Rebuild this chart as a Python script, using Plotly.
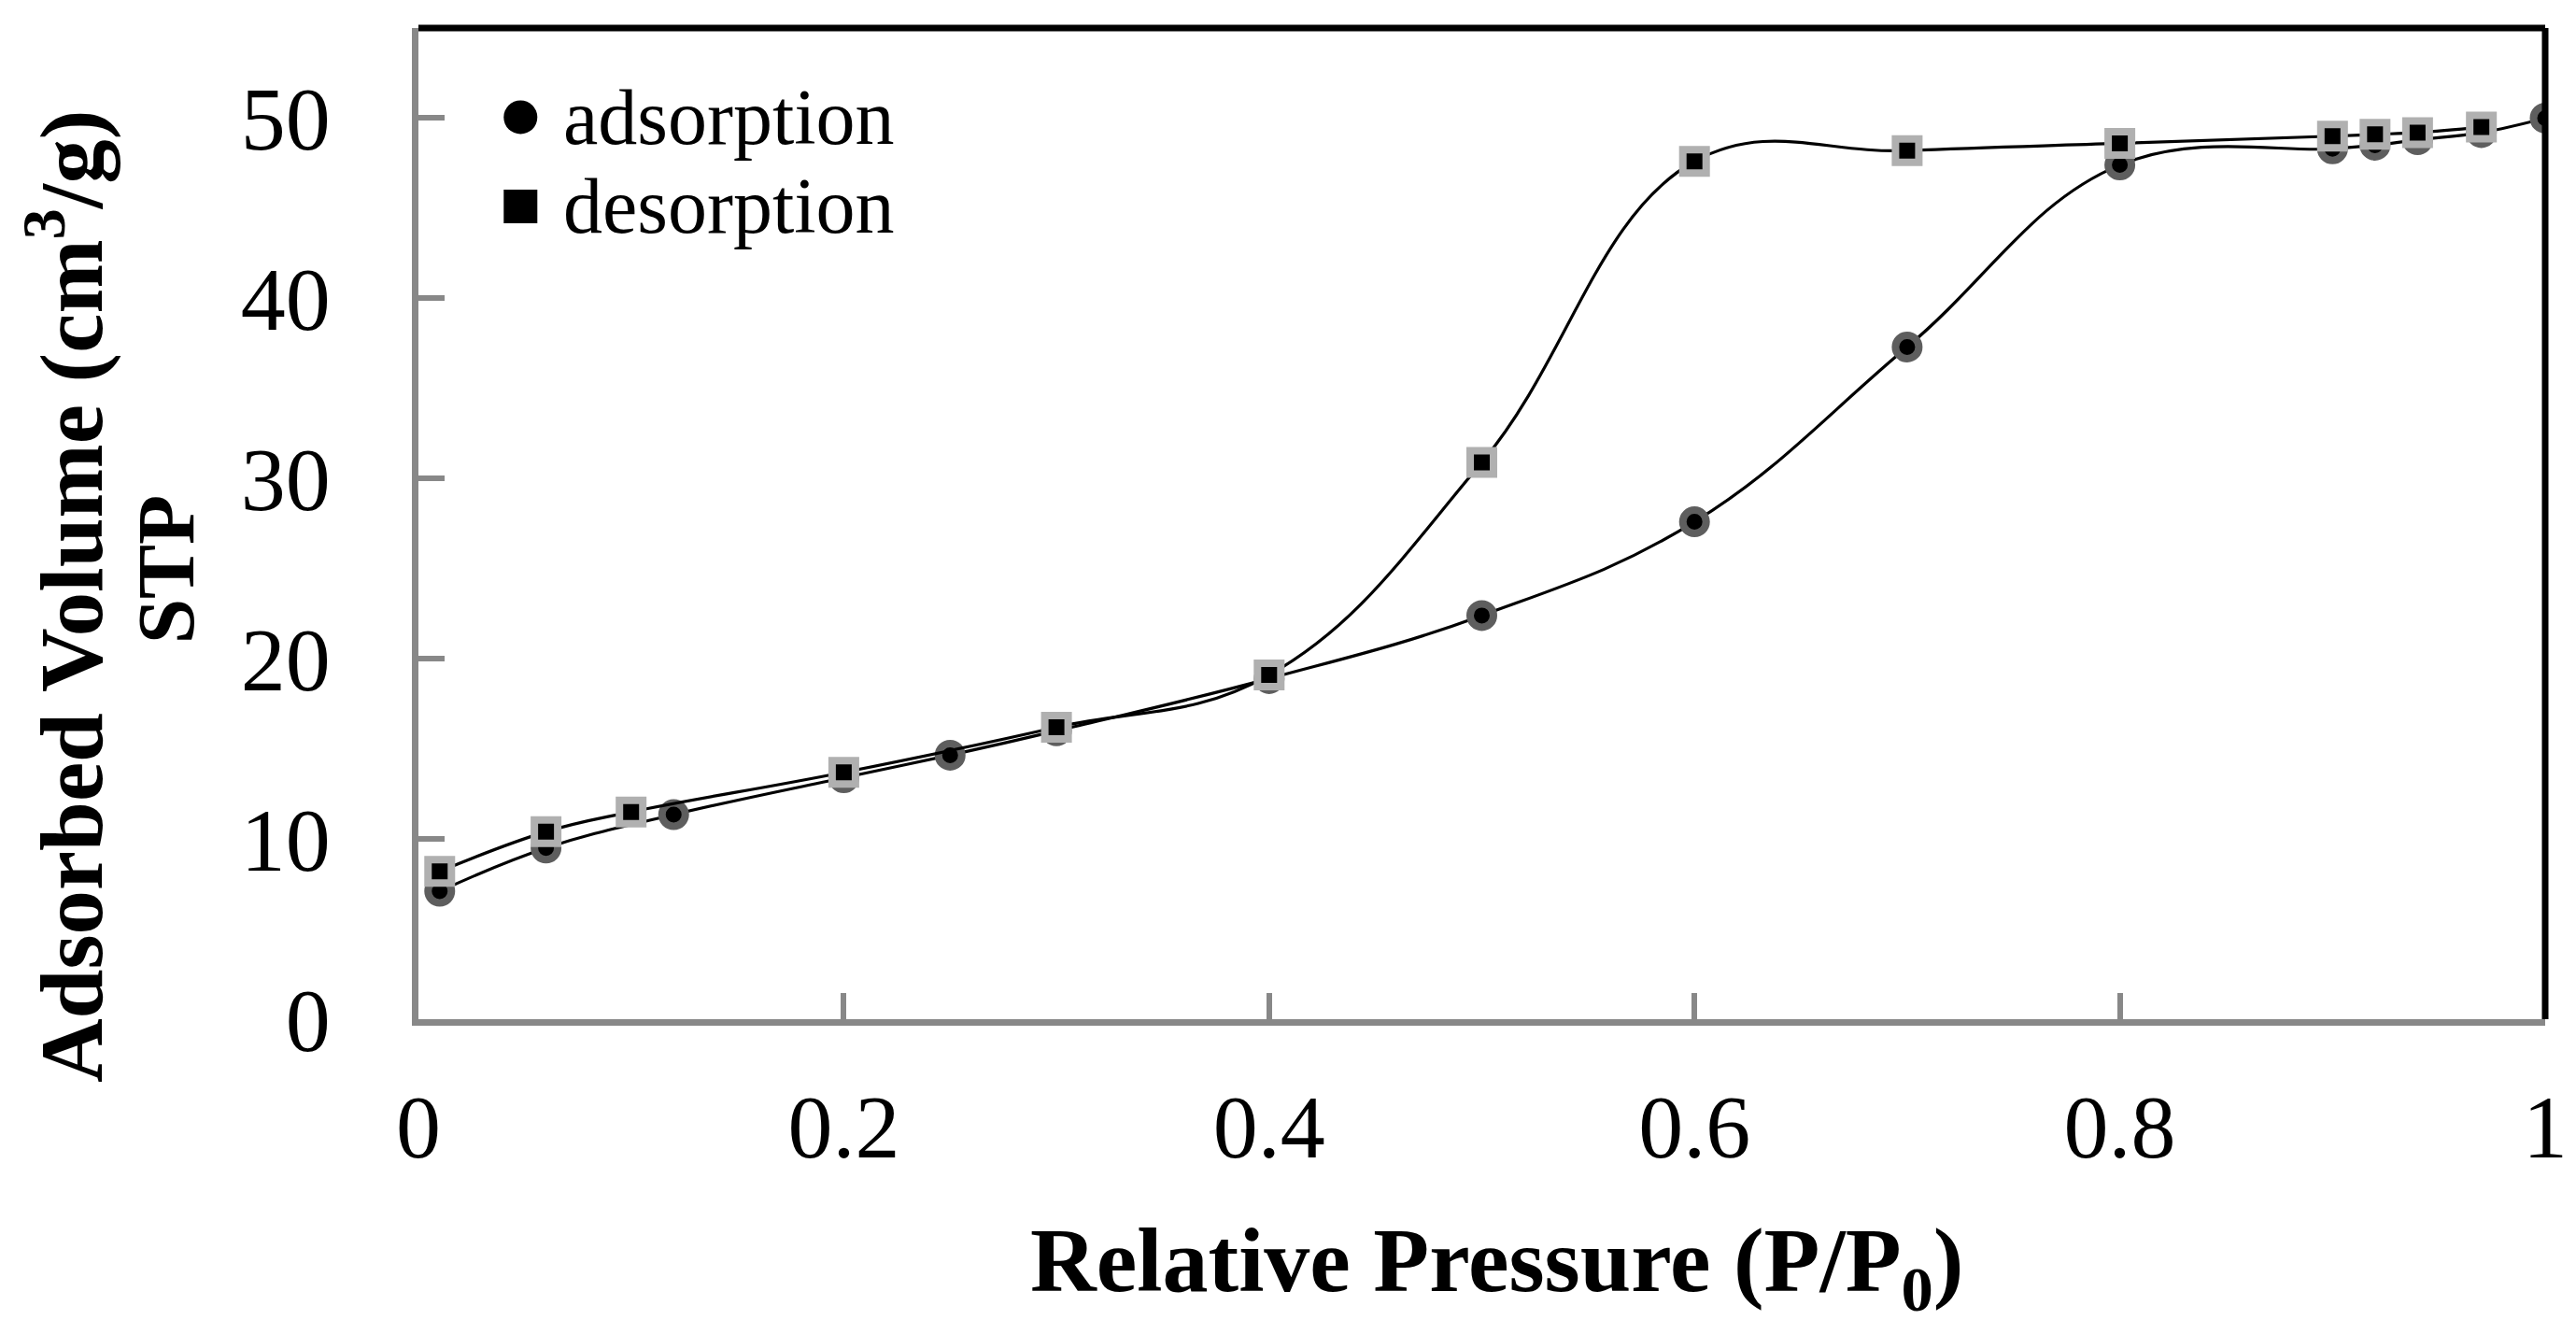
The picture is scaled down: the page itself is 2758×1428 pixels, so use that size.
import plotly.graph_objects as go

# Adsorption branch (circles)
ads_p = [0.01, 0.06, 0.12, 0.2, 0.25, 0.3, 0.4, 0.5, 0.6, 0.7, 0.8, 0.9, 0.92, 0.94, 0.97, 1.0]
ads_v = [7.1, 9.5, 11.35, 13.4, 14.65, 16.0, 18.9, 22.4, 27.6, 37.3, 47.4, 48.3, 48.5, 48.8, 49.2, 50.0]

# Desorption branch (squares)
des_p = [0.97, 0.94, 0.92, 0.9, 0.8, 0.7, 0.6, 0.5, 0.4, 0.3, 0.2, 0.1, 0.06, 0.01]
des_v = [49.5, 49.2, 49.1, 49.0, 48.6, 48.2, 47.6, 30.9, 19.1, 16.2, 13.7, 11.5, 10.4, 8.2]

x_ticks = [0, 0.2, 0.4, 0.6, 0.8, 1.0]
x_tick_text = ["0", "0.2", "0.4", "0.6", "0.8", "1"]
y_ticks = [0, 10, 20, 30, 40, 50]

FONT = "Liberation Serif"
GRAY_AXIS = "#888888"

fig = go.Figure()

fig.add_trace(go.Scatter(
    x=ads_p, y=ads_v, mode="lines+markers", name="adsorption",
    line=dict(color="black", width=3.2, shape="spline", smoothing=1.15),
    marker=dict(symbol="circle", size=25, color="black",
                line=dict(color="#5e5e5e", width=8)),
    showlegend=False,
))
fig.add_trace(go.Scatter(
    x=des_p, y=des_v, mode="lines+markers", name="desorption",
    line=dict(color="black", width=3.2, shape="spline", smoothing=1.15),
    marker=dict(symbol="square", size=25, color="black",
                line=dict(color="#b0b0b0", width=8)),
    showlegend=False,
))

# hand-made legend (glyphs bigger than plotly's legend allows)
legend_items = [("adsorption", "circle", 0.910), ("desorption", "square", 0.820)]
shapes = []
annotations = []
for label, sym, ypos in legend_items:
    shapes.append(dict(
        type="circle" if sym == "circle" else "rect",
        xref="paper", yref="paper", xsizemode="pixel", ysizemode="pixel",
        xanchor=0.048, yanchor=ypos,
        x0=-18, x1=18, y0=-18, y1=18,
        fillcolor="black", line=dict(width=0),
    ))
    annotations.append(dict(
        text=label, xref="paper", yref="paper", x=0.067, y=ypos,
        xanchor="left", yanchor="middle", showarrow=False,
        font=dict(family=FONT, size=84, color="black"),
    ))

# top and right frame are black, left and bottom are gray
shapes.append(dict(type="line", xref="paper", yref="paper", x0=0, x1=1, y0=1, y1=1,
                   line=dict(color="black", width=7)))
shapes.append(dict(type="line", xref="paper", yref="paper", x0=1, x1=1, y0=0, y1=1,
                   line=dict(color="black", width=7)))

annotations.append(dict(
    text="<b>Relative Pressure (P/P<sub>0</sub>)</b>", xref="paper", yref="paper",
    x=0.507, y=-0.25, xanchor="center", yanchor="middle", showarrow=False,
    font=dict(family=FONT, size=98, color="black"),
))
annotations.append(dict(
    text="<b>Adsorbed Volume (cm<sup>3</sup>/g)</b>", xref="paper", yref="paper",
    x=-0.166, y=0.426, xanchor="center", yanchor="middle", showarrow=False,
    textangle=-90, font=dict(family=FONT, size=95, color="black"),
))
annotations.append(dict(
    text="<b>STP</b>", xref="paper", yref="paper",
    x=-0.119, y=0.454, xanchor="center", yanchor="middle", showarrow=False,
    textangle=-90, font=dict(family=FONT, size=87, color="black"),
))

fig.update_layout(
    width=2758, height=1428,
    margin=dict(l=440, r=41, t=22, b=345),
    paper_bgcolor="white", plot_bgcolor="white",
    font=dict(family=FONT, color="black"),
    shapes=shapes, annotations=annotations,
    xaxis=dict(
        range=[0, 1], tickvals=x_ticks, ticktext=x_tick_text,
        showgrid=False, zeroline=False, showline=True, linecolor=GRAY_AXIS, linewidth=7,
        ticks="inside", ticklen=28, tickwidth=6, tickcolor=GRAY_AXIS,
        tickfont=dict(family=FONT, size=96, color="black"), ticklabelstandoff=26,
    ),
    yaxis=dict(
        range=[0, 55], tickvals=y_ticks,
        showgrid=False, zeroline=False, showline=True, linecolor=GRAY_AXIS, linewidth=7,
        ticks="inside", ticklen=28, tickwidth=6, tickcolor=GRAY_AXIS,
        tickfont=dict(family=FONT, size=96, color="black"), ticklabelstandoff=68,
    ),
)

fig.write_html("out.html")
